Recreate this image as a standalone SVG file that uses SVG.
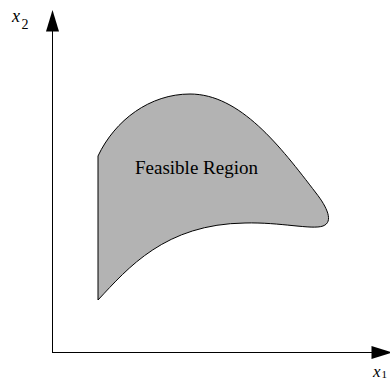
<svg xmlns="http://www.w3.org/2000/svg" width="390" height="383" viewBox="0 0 390 383">
<style>
.axis{stroke:#000;stroke-width:1;fill:none}
.head{fill:#000;stroke:none}
.lbl{font-family:"Liberation Serif","Times New Roman",serif;fill:#000}
.region{fill:#b3b3b3;stroke:#000;stroke-width:1}
</style>
<rect width="390" height="383" fill="#fff"/>
<g id="connectors">
<line class="axis" x1="52.5" y1="30" x2="52.5" y2="352.5"/>
<polygon class="head" points="52.5,10 46,31.5 59,31.5"/>
<line class="axis" x1="52" y1="352.5" x2="373" y2="352.5"/>
<polygon class="head" points="392,352.5 371.5,346 371.5,359"/>
</g>
<g id="region">
<path class="region" d="M98,156 L98,300 C128,268 165,224 245,223 C280,222 312,230 323,226 C334,222 327,207 316,193 C280,146 240,94 190,94 C150,94 115,120 98,156 Z"/>
<text class="lbl" x="135" y="174" font-size="19">Feasible Region</text>
</g>
<g id="x2-label">
<text class="lbl" x="12" y="22" font-size="18" font-style="italic">x</text>
<text class="lbl" x="21.5" y="29" font-size="14">2</text>
</g>
<g id="x1-label">
<text class="lbl" x="373" y="377" font-size="17" font-style="italic">x</text>
<text class="lbl" x="381.5" y="378" font-size="11">1</text>
</g>
</svg>
